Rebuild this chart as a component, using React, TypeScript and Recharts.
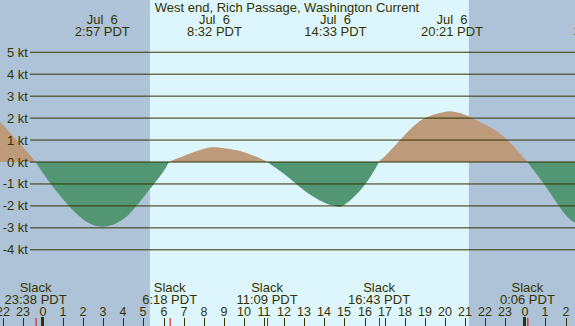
import React from "react";
import {
  ComposedChart,
  Area,
  XAxis,
  YAxis,
  ReferenceArea,
  ReferenceLine,
} from "recharts";

// hours relative to midnight Jul 6 (negative = Jul 5)
const TIMES = [
  -2.2, -2, -1, -0.37, 0, 1, 2, 2.95, 4, 5, 6, 6.3, 7, 8, 8.53, 9, 10, 11,
  11.15, 12, 13, 14, 14.55, 15, 16, 16.72, 17, 18, 19, 20, 20.35, 21, 22, 23,
  24, 24.1, 25, 26, 26.6,
];
const KNOTS = [
  1.82, 1.7, 0.68, 0, -0.51, -1.7, -2.62, -2.95, -2.6, -1.6, -0.42, 0, 0.27,
  0.6, 0.67, 0.63, 0.45, 0.08, 0, -0.55, -1.3, -1.85, -2.0, -1.95, -1.05, 0,
  0.25, 1.23, 2.0, 2.28, 2.3, 2.15, 1.7, 1.1, 0.11, 0, -1.1, -2.4, -2.8,
];

const PEAK_TIMES = [2.95, 8.53, 14.55, 20.35, 27.78];
const PEAK_DATES = ["Jul  6", "Jul  6", "Jul  6", "Jul  6", "Jul  7"];
const PEAK_LABELS = ["2:57 PDT", "8:32 PDT", "14:33 PDT", "20:21 PDT", "3:47 PDT"];

const SLACK_TIMES = [-0.37, 6.3, 11.15, 16.72, 24.1];
const SLACK_LABELS = ["23:38 PDT", "6:18 PDT", "11:09 PDT", "16:43 PDT", "0:06 PDT"];

const HOURS = [
  -2, -1, 0, 1, 2, 3, 4, 5, 6, 7, 8, 9, 10, 11, 12, 13, 14, 15, 16, 17, 18,
  19, 20, 21, 22, 23, 24, 25, 26,
];
const KT_TICKS = [5, 4, 3, 2, 1, 0, -1, -2, -3, -4];

const SUNRISE = 5.32;
const SUNSET = 21.19;

const W = 575;
const H = 326;
const X_DOMAIN: [number, number] = [-2.14, 26.47];
const Y_DOMAIN: [number, number] = [-7.47, 7.38];
const ZERO_Y = (H * Y_DOMAIN[1]) / (Y_DOMAIN[1] - Y_DOMAIN[0]);
const GRID_START = -0.65;

const INK = "#333300";
const NIGHT = "#afc3d8";
const DAY = "#ddf5fd";
const FLOOD = "#bc9a7a";
const EBB = "#529673";
const FONT = "'Liberation Sans', Arial, sans-serif";

const rows = TIMES.map((t, i) => ({ t, v: KNOTS[i] }));

interface VB {
  viewBox?: { x: number; y: number; width: number; height: number };
}

const KtLabel = ({ viewBox, value }: VB & { value?: number }) => {
  if (!viewBox) return null;
  return (
    <text x={viewBox.x - 2} y={viewBox.y + 4.5} textAnchor="end" fontSize={13} fontFamily={FONT} fill={INK}>
      {value} kt
    </text>
  );
};

const PeakLabel = ({ viewBox, date, time }: VB & { date?: string; time?: string }) => {
  if (!viewBox) return null;
  return (
    <g fontSize={13} fontFamily={FONT} fill={INK} textAnchor="middle">
      <text x={viewBox.x} y={24} style={{ whiteSpace: "pre" }}>{date}</text>
      <text x={viewBox.x} y={36}>{time}</text>
    </g>
  );
};

const SlackLabel = ({ viewBox, time }: VB & { time?: string }) => {
  if (!viewBox) return null;
  return (
    <g fontSize={13} fontFamily={FONT} fill={INK} textAnchor="middle">
      <text x={viewBox.x} y={292}>Slack</text>
      <text x={viewBox.x} y={304}>{time}</text>
      <line x1={viewBox.x + 0.5} x2={viewBox.x + 0.5} y1={318} y2={H} stroke="#e00000" strokeWidth={1} />
    </g>
  );
};

const HourTick = ({ viewBox, hour }: VB & { hour?: number }) => {
  if (!viewBox || hour === undefined) return null;
  const midnight = hour % 24 === 0;
  const x = Math.round(viewBox.x);
  return (
    <g>
      <text x={x} y={316} textAnchor="middle" fontSize={12.5} fontFamily={FONT} fill={INK}>
        {((hour % 24) + 24) % 24}
      </text>
      {midnight ? (
        <rect x={x - 2} y={317} width={3} height={H - 317} fill={INK} />
      ) : (
        <line x1={x + 0.5} x2={x + 0.5} y1={318} y2={H} stroke={INK} strokeWidth={1} />
      )}
    </g>
  );
};

export default function App() {
  return (
    <div style={{ position: "absolute", left: 0, top: 0, width: W, height: H, background: DAY }}>
      <ComposedChart width={W} height={H} data={rows} margin={{ top: 0, right: 0, bottom: 0, left: 0 }}>
        <defs>
          <linearGradient id="tideFill" gradientUnits="userSpaceOnUse" x1={0} y1={0} x2={0} y2={H}>
            <stop offset={ZERO_Y / H} stopColor={FLOOD} />
            <stop offset={ZERO_Y / H} stopColor={EBB} />
          </linearGradient>
        </defs>
        <XAxis type="number" dataKey="t" domain={X_DOMAIN} hide allowDataOverflow />
        <YAxis type="number" domain={Y_DOMAIN} hide allowDataOverflow />

        <ReferenceArea x1={X_DOMAIN[0]} x2={SUNRISE} fill={NIGHT} fillOpacity={1} stroke="none" ifOverflow="hidden" />
        <ReferenceArea x1={SUNSET} x2={X_DOMAIN[1]} fill={NIGHT} fillOpacity={1} stroke="none" ifOverflow="hidden" />

        {KT_TICKS.map((k) => (
          <ReferenceLine
            key={`kt-${k}`}
            segment={[
              { x: GRID_START, y: k },
              { x: X_DOMAIN[1], y: k },
            ]}
            stroke={INK}
            strokeWidth={1}
            strokeOpacity={1}
            label={<KtLabel value={k} />}
          />
        ))}

        <Area
          dataKey="v"
          type="natural"
          baseValue={0}
          stroke="none"
          fill="url(#tideFill)"
          fillOpacity={1}
          dot={false}
          activeDot={false}
          isAnimationActive={false}
        />

        {PEAK_TIMES.map((t, i) => (
          <ReferenceLine
            key={`peak-${i}`}
            x={t}
            stroke="none"
            ifOverflow="visible"
            label={<PeakLabel date={PEAK_DATES[i]} time={PEAK_LABELS[i]} />}
          />
        ))}

        {HOURS.map((h) => (
          <ReferenceLine key={`hr-${h}`} x={h} stroke="none" label={<HourTick hour={h} />} />
        ))}

        {SLACK_TIMES.map((t, i) => (
          <ReferenceLine key={`slack-${i}`} x={t} stroke="none" label={<SlackLabel time={SLACK_LABELS[i]} />} />
        ))}

        <text x={287} y={12} textAnchor="middle" fontSize={13} fontFamily={FONT} fill={INK}>
          West end, Rich Passage, Washington Current
        </text>
      </ComposedChart>
    </div>
  );
}
